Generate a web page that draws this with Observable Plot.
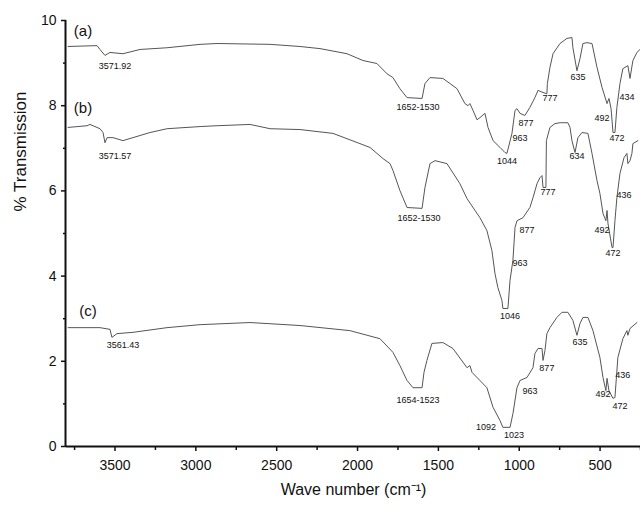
<!DOCTYPE html>
<html>
<head>
<meta charset="utf-8">
<script src="https://cdn.jsdelivr.net/npm/d3@7"></script>
<script src="https://cdn.jsdelivr.net/npm/@observablehq/plot@0.6"></script>
<style>
  html, body { margin: 0; padding: 0; background: #fff; }
  #chart { width: 640px; height: 510px; }
</style>
</head>
<body>
<div id="chart"></div>
<script>
// Spectrum (a): [wavenumber cm^-1, % transmission]
const curveA = [[3790,9.39],[3611,9.41],[3593,9.32],[3562,9.18],[3531,9.25],[3451,9.22],[3345,9.32],[3178,9.36],[2974,9.44],[2869,9.46],[2541,9.44],[2356,9.39],[2232,9.34],[2065,9.22],[1966,9.06],[1880,8.99],[1818,8.75],[1781,8.66],[1738,8.40],[1694,8.19],[1601,8.17],[1583,8.52],[1552,8.66],[1472,8.64],[1385,8.40],[1336,8.05],[1317,8.00],[1305,8.05],[1286,7.89],[1261,7.67],[1243,7.72],[1212,7.82],[1193,7.49],[1162,7.18],[1119,7.02],[1088,6.90],[1076,6.88],[1045,7.35],[1026,7.89],[1014,7.93],[995,7.82],[965,7.77],[934,7.96],[903,8.19],[884,8.36],[853,8.31],[829,8.28],[826,8.52],[810,8.90],[791,9.22],[748,9.46],[705,9.58],[674,9.60],[668,9.36],[643,8.82],[624,9.11],[606,9.46],[581,9.48],[550,9.46],[519,8.90],[488,8.43],[457,8.05],[445,8.17],[432,7.93],[420,7.37],[408,7.37],[396,7.96],[377,8.52],[359,8.87],[328,8.94],[315,8.64],[297,9.06],[272,9.25],[253,9.32]];
// Spectrum (b)
const curveB = [[3790,7.49],[3673,7.53],[3655,7.56],[3593,7.46],[3574,7.37],[3562,7.13],[3549,7.25],[3512,7.25],[3451,7.18],[3389,7.25],[3284,7.37],[3178,7.46],[2974,7.51],[2869,7.53],[2665,7.56],[2541,7.46],[2356,7.44],[2152,7.35],[1985,7.11],[1923,7.02],[1843,6.76],[1799,6.64],[1781,6.48],[1738,6.01],[1694,5.61],[1601,5.59],[1583,6.08],[1552,6.64],[1521,6.71],[1447,6.64],[1367,6.17],[1323,5.82],[1243,5.37],[1200,5.07],[1169,4.60],[1150,4.06],[1132,3.73],[1107,3.43],[1101,3.24],[1070,3.24],[1057,3.90],[1039,4.37],[1026,5.14],[1014,5.30],[977,5.37],[934,5.61],[915,5.84],[890,6.17],[872,6.31],[859,6.36],[853,6.08],[835,6.08],[832,7.18],[810,7.49],[779,7.58],[748,7.60],[699,7.60],[686,7.49],[674,7.18],[655,6.90],[637,7.25],[612,7.37],[575,7.35],[550,6.88],[519,6.24],[501,5.94],[482,5.47],[464,5.30],[457,5.54],[451,5.23],[426,4.67],[420,4.67],[408,5.30],[396,5.84],[377,6.41],[352,6.78],[334,6.88],[328,6.64],[315,6.71],[303,6.88],[297,7.11],[266,7.18]];
// Spectrum (c)
const curveC = [[3790,2.79],[3593,2.79],[3531,2.75],[3519,2.56],[3488,2.65],[3389,2.68],[3178,2.79],[2974,2.86],[2665,2.91],[2356,2.84],[2047,2.72],[1861,2.53],[1781,2.21],[1738,1.90],[1694,1.55],[1657,1.38],[1601,1.38],[1589,1.74],[1571,2.02],[1540,2.42],[1472,2.44],[1410,2.30],[1323,1.85],[1305,1.90],[1292,1.74],[1243,1.55],[1200,1.38],[1162,0.92],[1119,0.61],[1101,0.45],[1057,0.45],[1039,0.77],[1014,1.38],[995,1.55],[952,1.62],[915,1.85],[903,2.18],[884,2.30],[859,2.30],[853,2.02],[841,2.25],[829,2.65],[810,2.79],[767,3.03],[736,3.15],[699,3.15],[668,2.96],[643,2.61],[624,2.89],[606,3.03],[575,3.03],[544,2.72],[501,2.09],[482,1.62],[464,1.31],[457,1.60],[445,1.31],[420,1.13],[408,1.15],[390,2.09],[359,2.53],[334,2.72],[328,2.61],[315,2.77],[272,2.91]];

const seriesNames = ["(a)", "(b)", "(c)"];
const seriesLabelW = [3698, 3698, 3667];
const seriesLabelV = [9.76, 7.93, 3.17];

// Peak annotations
const annText = ["3571.92","1652-1530","1044","963","877","777","635","492","472","434",
                 "3571.57","1652-1530","1046","963","877","777","634","492","472","436",
                 "3561.43","1654-1523","1092","1023","963","877","635","492","472","436"];
const annW = [3500,1626,1076,995,958,810,637,488,396,334,
              3500,1620,1057,995,952,822,643,488,420,352,
              3451,1626,1206,1033,934,829,624,482,377,359];
const annV = [8.94,7.96,6.69,7.25,7.58,8.17,8.68,7.70,7.25,8.19,
              6.81,5.35,3.07,4.30,5.07,5.96,6.81,5.07,4.55,5.89,
              2.37,1.10,0.45,0.26,1.31,1.83,2.44,1.22,0.94,1.67];

const xMajor = [3500, 3000, 2500, 2000, 1500, 1000, 500];
const xMinor = [3750, 3250, 2750, 2250, 1750, 1250, 750, 250];
const yMajor = [0, 2, 4, 6, 8, 10];
const yMinor = [1, 3, 5, 7, 9];
const xTitle = "Wave number (cm\u207B\u00B9)";
const yTitle = "% Transmission";

const rows = [];
[curveA, curveB, curveC].forEach((c, i) => c.forEach(([w, v]) => rows.push({series: seriesNames[i], w, v})));
const seriesLabels = seriesNames.map((s, i) => ({s, w: seriesLabelW[i], v: seriesLabelV[i]}));
const anns = annText.map((t, i) => ({t, w: annW[i], v: annV[i]}));

const font = "'Liberation Sans', Arial, sans-serif";

const chart = Plot.plot({
  width: 640,
  height: 510,
  marginLeft: 66,
  marginRight: 0,
  marginTop: 20,
  marginBottom: 64,
  style: {fontFamily: font, fontSize: "14px", color: "#111", background: "#fff", overflow: "visible"},
  x: {domain: [3800, 250], axis: null},
  y: {domain: [0, 10], axis: null},
  marks: [
    Plot.axisX({ticks: xMinor, tickSize: 4, tickFormat: () => "", label: null, stroke: "#111", strokeWidth: 1.5}),
    Plot.axisX({ticks: xMajor, tickSize: 5, tickPadding: 9, tickFormat: d => String(d), fontSize: 14, label: null, stroke: "#111", strokeWidth: 1.5}),
    Plot.axisY({ticks: yMinor, tickSize: 3, tickFormat: () => "", label: null, stroke: "#111", strokeWidth: 1.5}),
    Plot.axisY({ticks: yMajor, tickSize: 5, tickPadding: 5, tickFormat: d => String(d), fontSize: 14, label: null, stroke: "#111", strokeWidth: 1.5}),
    Plot.ruleY([0], {x1: 3800, x2: 250, stroke: "#111", strokeWidth: 2}),
    Plot.ruleX([3800], {y1: 0, y2: 10, stroke: "#111", strokeWidth: 2, dx: -1}),
    Plot.line(rows, {x: "w", y: "v", z: "series", stroke: "#555", strokeWidth: 1}),
    Plot.text(seriesLabels, {x: "w", y: "v", text: "s", fontSize: 15, fill: "#111"}),
    Plot.text(anns, {x: "w", y: "v", text: "t", fontSize: 9, fill: "#111"}),
    Plot.text([xTitle], {frameAnchor: "bottom", dy: 48, fontSize: 16, fill: "#111"}),
    Plot.text([yTitle], {frameAnchor: "left", dx: -46, dy: -22, rotate: -90, fontSize: 17, fill: "#111"})
  ]
});
document.getElementById("chart").appendChild(chart);
</script>
</body>
</html>
